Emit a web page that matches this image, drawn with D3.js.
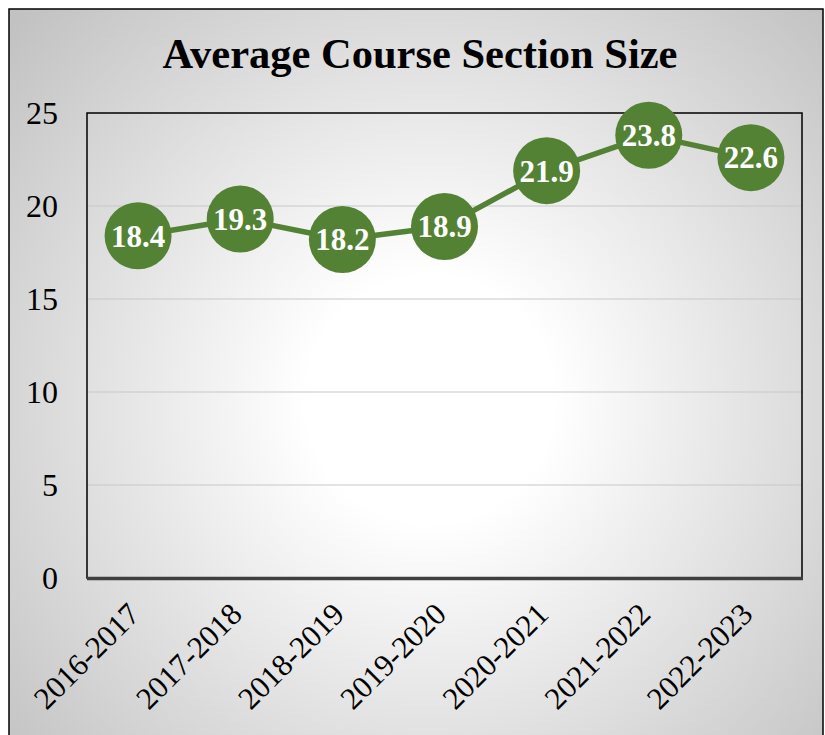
<!DOCTYPE html>
<html>
<head>
<meta charset="utf-8">
<script src="https://cdn.jsdelivr.net/npm/d3@7"></script>
<style>
  html, body { margin: 0; padding: 0; background: #fff; }
  svg { display: block; }
</style>
</head>
<body>
<svg id="chart"></svg>
<script>
// chart data
const years = ["2016-2017", "2017-2018", "2018-2019", "2019-2020", "2020-2021", "2021-2022", "2022-2023"];
const sectionSize = [18.4, 19.3, 18.2, 18.9, 21.9, 23.8, 22.6];
const yTicks = [0, 5, 10, 15, 20, 25];
const title = "Average Course Section Size";

const width = 825;
const height = 735;
const margin = { top: 113, right: 23, bottom: 157, left: 87 };
const green = "#548235";
const serif = "'Liberation Serif', 'Times New Roman', serif";

const svg = d3.select("#chart")
    .attr("width", width)
    .attr("height", height);

// radial background like the office chart area
const defs = svg.append("defs");
const grad = defs.append("radialGradient")
    .attr("id", "bg")
    .attr("gradientUnits", "userSpaceOnUse")
    .attr("cx", 430).attr("cy", 400).attr("r", 560);
grad.append("stop").attr("offset", 0).attr("stop-color", "#ffffff");
grad.append("stop").attr("offset", 0.22).attr("stop-color", "#ffffff");
grad.append("stop").attr("offset", 1).attr("stop-color", "#c2c2c2");

svg.append("rect")
    .attr("x", 9).attr("y", 9)
    .attr("width", 814).attr("height", 740)
    .attr("fill", "url(#bg)")
    .attr("stroke", "#000")
    .attr("stroke-width", 1.5);

// title
svg.append("text")
    .attr("x", 420)
    .attr("y", 68)
    .attr("text-anchor", "middle")
    .attr("font-family", serif)
    .attr("font-weight", "bold")
    .attr("font-size", 42.5)
    .text(title);

// scales
const x = d3.scalePoint()
    .domain(years)
    .range([margin.left, width - margin.right])
    .padding(0.5);

const y = d3.scaleLinear()
    .domain([0, 25])
    .range([height - margin.bottom, margin.top]);

const x0 = margin.left, x1 = width - margin.right;

// gridlines
svg.append("g")
    .selectAll("line")
    .data(yTicks.filter(d => d > 0 && d < 25))
    .join("line")
    .attr("x1", x0).attr("x2", x1)
    .attr("y1", d => y(d)).attr("y2", d => y(d))
    .attr("stroke", "#c8c8c8")
    .attr("stroke-width", 1.2);

// plot frame
svg.append("rect")
    .attr("x", x0).attr("y", y(25))
    .attr("width", x1 - x0).attr("height", y(0) - y(25))
    .attr("fill", "none")
    .attr("stroke", "#000")
    .attr("stroke-width", 1.5);

// bottom axis line, heavier and grey
svg.append("line")
    .attr("x1", x0).attr("x2", x1 + 1)
    .attr("y1", y(0) + 0.5).attr("y2", y(0) + 0.5)
    .attr("stroke", "#3f3f3f")
    .attr("stroke-width", 3.5);

// y axis labels
const yAxis = svg.append("g")
    .attr("transform", `translate(${x0 - 29},0)`)
    .call(d3.axisLeft(y).tickValues(yTicks).tickSize(0).tickPadding(0));
yAxis.select(".domain").remove();
yAxis.selectAll("text")
    .attr("font-family", serif)
    .attr("font-size", 32)
    .attr("fill", "#000")
    .attr("dy", "0.33em");

// x axis labels, rotated
const xAxis = svg.append("g")
    .attr("transform", `translate(0,${y(0)})`)
    .call(d3.axisBottom(x).tickSize(0).tickPadding(0));
xAxis.select(".domain").remove();
xAxis.selectAll("text")
    .attr("font-family", serif)
    .attr("font-size", 31)
    .attr("fill", "#000")
    .attr("text-anchor", "end")
    .attr("y", 0)
    .attr("dy", 0)
    .attr("transform", "translate(3,38) rotate(-45)");

// line
const line = d3.line()
    .x((d, i) => x(years[i]))
    .y(d => y(d));

svg.append("path")
    .datum(sectionSize)
    .attr("fill", "none")
    .attr("stroke", green)
    .attr("stroke-width", 5.5)
    .attr("stroke-linejoin", "round")
    .attr("d", line);

// markers with labels inside
const pts = svg.append("g")
    .selectAll("g")
    .data(sectionSize)
    .join("g")
    .attr("transform", (d, i) => `translate(${x(years[i])},${y(d)})`);

pts.append("circle")
    .attr("r", 33.5)
    .attr("fill", green);

pts.append("text")
    .attr("text-anchor", "middle")
    .attr("dy", "0.35em")
    .attr("font-family", serif)
    .attr("font-weight", "bold")
    .attr("font-size", 31)
    .attr("fill", "#fff")
    .text(d => d.toFixed(1));
</script>
</body>
</html>
